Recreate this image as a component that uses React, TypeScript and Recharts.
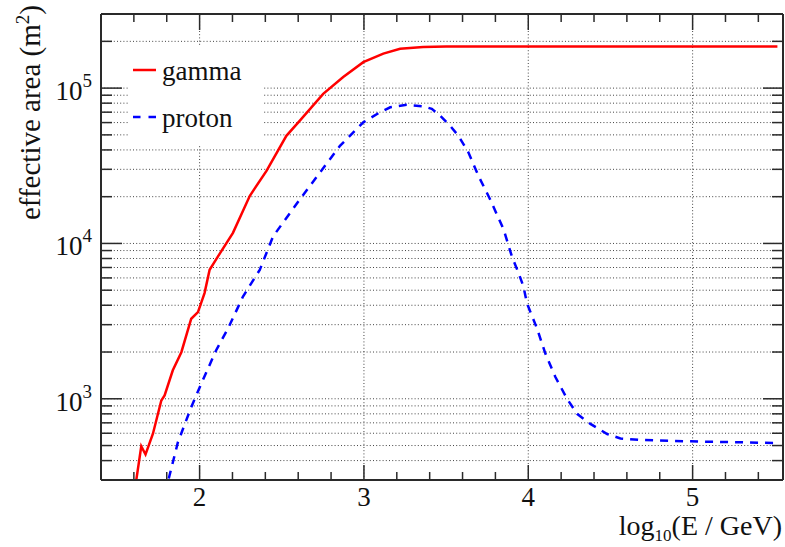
import { LineChart, Line, XAxis, YAxis, CartesianGrid, ReferenceLine, Legend } from "recharts";

const FONT = "'Liberation Serif', Tinos, 'Times New Roman', Times, 'Nimbus Roman', FreeSerif, 'DejaVu Serif', serif";
const FRAME = "#2a2a2a";
const GRID = "#444";

// log10(E / GeV) and effective area (m^2)
const gammaE = [1.6, 1.645, 1.671, 1.716, 1.767, 1.787, 1.837, 1.889, 1.949, 1.99, 2.03, 2.061, 2.112, 2.203, 2.305, 2.407, 2.528, 2.61, 2.752, 2.874, 2.996, 3.118, 3.22, 3.36, 3.5, 4.0, 4.5, 5.0, 5.516];
const gammaArea = [235, 495, 438, 596, 975, 1050, 1525, 1995, 3275, 3615, 4790, 6770, 8260, 11700, 20200, 29300, 49300, 61700, 91900, 117800, 147000, 166700, 179000, 184000, 185000, 185000, 185000, 185000, 185000];

const protonE = [1.79, 1.868, 1.949, 2.01, 2.1, 2.172, 2.264, 2.366, 2.447, 2.61, 2.732, 2.854, 2.996, 3.098, 3.16, 3.26, 3.36, 3.413, 3.463, 3.524, 3.575, 3.636, 3.697, 3.768, 3.85, 3.9, 3.941, 3.971, 3.992, 4.053, 4.104, 4.165, 4.236, 4.297, 4.378, 4.48, 4.561, 4.683, 4.988, 5.516];
const protonArea = [247, 525, 883, 1249, 2047, 2825, 4550, 6760, 11100, 19200, 28600, 42500, 60200, 70000, 75300, 78000, 76400, 73500, 66500, 57300, 49300, 38500, 27200, 19200, 12300, 8270, 6440, 5270, 4120, 2840, 1955, 1380, 1000, 800, 689, 593, 555, 543, 532, 519];

const xTicks = [1.4, 1.6, 1.8, 2, 2.2, 2.4, 2.6, 2.8, 3, 3.2, 3.4, 3.6, 3.8, 4, 4.2, 4.4, 4.6, 4.8, 5, 5.2, 5.4];
const xMajor = [2, 3, 4, 5];
const yTicks = [
  300, 400, 500, 600, 700, 800, 900,
  1000, 2000, 3000, 4000, 5000, 6000, 7000, 8000, 9000,
  10000, 20000, 30000, 40000, 50000, 60000, 70000, 80000, 90000,
  100000, 200000, 300000,
];

const series = [
  { key: "gamma", color: "#ff0000", dash: undefined as string | undefined, legendDash: undefined as string | undefined },
  { key: "proton", color: "#0000ff", dash: "8 7", legendDash: "7.5 8" },
];

const gammaData = gammaE.map((e, i) => ({ e, area: gammaArea[i] }));
const protonData = protonE.map((e, i) => ({ e, area: protonArea[i] }));
const dataFor: Record<string, { e: number; area: number }[]> = { gamma: gammaData, proton: protonData };

const textStyle = { fontFamily: FONT };

const isDecade = (v: number) => {
  const l = Math.log10(v);
  return Math.abs(l - Math.round(l)) < 1e-6;
};

function LeftTick({ x, y, payload }: any) {
  const v = payload.value;
  const major = isDecade(v);
  return (
    <g>
      <line x1={x} y1={y} x2={x + (major ? 21 : 11)} y2={y} stroke={FRAME} strokeWidth={1.5} />
      {major && (
        <text x={x - 9} y={y + 12} textAnchor="end" fontSize={27} style={textStyle} fill="#111">
          10
          <tspan dy={-13} fontSize={19}>{Math.round(Math.log10(v))}</tspan>
        </text>
      )}
    </g>
  );
}

function RightTick({ x, y, payload }: any) {
  const major = isDecade(payload.value);
  return <line x1={x} y1={y} x2={x - (major ? 20 : 11)} y2={y} stroke={FRAME} strokeWidth={1.5} />;
}

function BottomTick({ x, y, payload }: any) {
  const major = xMajor.includes(payload.value);
  return (
    <g>
      <line x1={x} y1={y} x2={x} y2={y - (major ? 15 : 8)} stroke={FRAME} strokeWidth={1.5} />
      {major && (
        <text x={x} y={y + 26} textAnchor="middle" fontSize={27} style={textStyle} fill="#111">
          {payload.value}
        </text>
      )}
    </g>
  );
}

function TopTick({ x, y, payload }: any) {
  const major = xMajor.includes(payload.value);
  return <line x1={x} y1={y} x2={x} y2={y + (major ? 16 : 8)} stroke={FRAME} strokeWidth={1.5} />;
}

function YTitle() {
  return (
    <text transform="translate(40,5) rotate(-90)" textAnchor="end" fontSize={29} style={textStyle} fill="#111">
      effective area (m
      <tspan dy={-11} fontSize={19}>2</tspan>
      <tspan dy={11}>)</tspan>
    </text>
  );
}

function XTitle() {
  return (
    <text x={782} y={535} textAnchor="end" fontSize={28} style={textStyle} fill="#111">
      log
      <tspan dy={6} fontSize={17}>10</tspan>
      <tspan dy={-6}>(E / GeV)</tspan>
    </text>
  );
}

function LegendBox({ payload }: any) {
  return (
    <svg width={134} height={100} style={{ display: "block" }}>
      <rect width={134} height={100} fill="#fff" />
      {(payload || []).map((entry: any, i: number) => {
        const s = series.find((d) => d.key === entry.value);
        const cy = 25 + i * 47;
        return (
          <g key={entry.value}>
            <line x1={5} y1={cy} x2={28} y2={cy} stroke={entry.color} strokeWidth={2.5} strokeDasharray={s?.legendDash} />
            <text x={34} y={cy + 9.5} fontSize={27} style={textStyle} fill="#111">
              {entry.value}
            </text>
          </g>
        );
      })}
    </svg>
  );
}

export default function App() {
  return (
    <div style={{ position: "absolute", left: 0, top: 0, width: 785, height: 547, background: "#fff", fontFamily: FONT }}>
      <LineChart width={785} height={547} margin={{ top: 0, right: 0, bottom: 0, left: 0 }}>
        <CartesianGrid vertical={false} stroke={GRID} strokeDasharray="1 2.2" />
        {xMajor.map((v) => (
          <ReferenceLine key={v} x={v} stroke={GRID} strokeDasharray="1 2.2" />
        ))}
        <XAxis
          dataKey="e"
          type="number"
          domain={[1.4, 5.55]}
          allowDataOverflow
          ticks={xTicks}
          interval={0}
          height={67}
          tickSize={0}
          tickMargin={0}
          tickLine={false}
          axisLine={{ stroke: FRAME, strokeWidth: 2 }}
          tick={(p: any) => <BottomTick {...p} />}
          label={<XTitle />}
        />
        <XAxis
          xAxisId="top"
          orientation="top"
          dataKey="e"
          type="number"
          domain={[1.4, 5.55]}
          allowDataOverflow
          ticks={xTicks}
          interval={0}
          height={14}
          tickSize={0}
          tickMargin={0}
          tickLine={false}
          axisLine={{ stroke: FRAME, strokeWidth: 2 }}
          tick={(p: any) => <TopTick {...p} />}
        />
        <YAxis
          scale="log"
          domain={[300, 300000]}
          allowDataOverflow
          ticks={yTicks}
          interval={0}
          width={101}
          tickSize={0}
          tickMargin={0}
          tickLine={false}
          axisLine={{ stroke: FRAME, strokeWidth: 2 }}
          tick={(p: any) => <LeftTick {...p} />}
          label={<YTitle />}
        />
        <YAxis
          yAxisId="right"
          orientation="right"
          scale="log"
          domain={[300, 300000]}
          allowDataOverflow
          ticks={yTicks}
          interval={0}
          width={2}
          tickSize={0}
          tickMargin={0}
          tickLine={false}
          axisLine={{ stroke: FRAME, strokeWidth: 2 }}
          tick={(p: any) => <RightTick {...p} />}
        />
        {series.map((s) => (
          <Line
            key={s.key}
            name={s.key}
            data={dataFor[s.key]}
            dataKey="area"
            type="linear"
            stroke={s.color}
            strokeWidth={2.5}
            strokeDasharray={s.dash}
            dot={false}
            activeDot={false}
            isAnimationActive={false}
          />
        ))}
        <Legend
          layout="vertical"
          align="center"
          verticalAlign="middle"
          width={134}
          height={100}
          wrapperStyle={{ left: 128, top: 45, width: 134, height: 100 }}
          content={(p: any) => <LegendBox {...p} />}
        />
      </LineChart>
    </div>
  );
}
